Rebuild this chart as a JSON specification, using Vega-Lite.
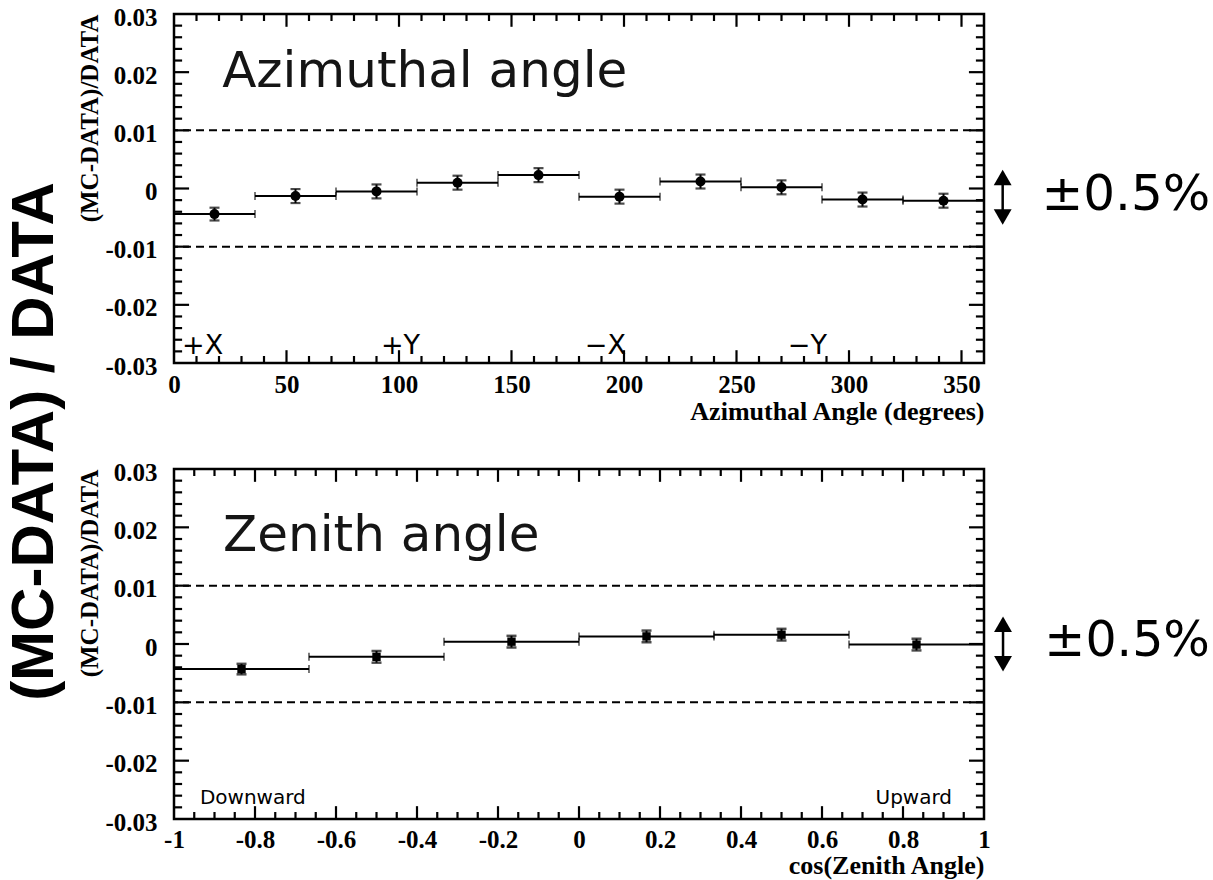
{
  "$schema": "https://vega.github.io/schema/vega-lite/v6.json",
  "background": "white",
  "padding": {"left": 4, "top": 3, "right": 2, "bottom": 2},
  "title": {
    "text": "(MC-DATA) / DATA",
    "orient": "left",
    "anchor": "middle",
    "font": "Liberation Sans",
    "fontSize": 60,
    "fontWeight": "bold",
    "color": "black",
    "offset": 11
  },
  "spacing": 32,
  "datasets": {
    "azimuth": [
      {"phi_lo": 0, "phi_hi": 36, "phi": 18, "ratio": -0.0044, "ratio_lo": -0.0055, "ratio_hi": -0.0033},
      {"phi_lo": 36, "phi_hi": 72, "phi": 54, "ratio": -0.0013, "ratio_lo": -0.0025, "ratio_hi": -0.0001},
      {"phi_lo": 72, "phi_hi": 108, "phi": 90, "ratio": -0.0005, "ratio_lo": -0.0017, "ratio_hi": 0.0007},
      {"phi_lo": 108, "phi_hi": 144, "phi": 126, "ratio": 0.0010, "ratio_lo": -0.0002, "ratio_hi": 0.0022},
      {"phi_lo": 144, "phi_hi": 180, "phi": 162, "ratio": 0.0023, "ratio_lo": 0.0011, "ratio_hi": 0.0035},
      {"phi_lo": 180, "phi_hi": 216, "phi": 198, "ratio": -0.0014, "ratio_lo": -0.0026, "ratio_hi": -0.0002},
      {"phi_lo": 216, "phi_hi": 252, "phi": 234, "ratio": 0.0012, "ratio_lo": 0.0000, "ratio_hi": 0.0024},
      {"phi_lo": 252, "phi_hi": 288, "phi": 270, "ratio": 0.0002, "ratio_lo": -0.0010, "ratio_hi": 0.0014},
      {"phi_lo": 288, "phi_hi": 324, "phi": 306, "ratio": -0.0019, "ratio_lo": -0.0031, "ratio_hi": -0.0007},
      {"phi_lo": 324, "phi_hi": 360, "phi": 342, "ratio": -0.0021, "ratio_lo": -0.0033, "ratio_hi": -0.0009}
    ],
    "zenith": [
      {"c_lo": -1, "c_hi": -0.6667, "c": -0.8333, "ratio": -0.0043, "ratio_lo": -0.0052, "ratio_hi": -0.0034},
      {"c_lo": -0.6667, "c_hi": -0.3333, "c": -0.5, "ratio": -0.0022, "ratio_lo": -0.0032, "ratio_hi": -0.0012},
      {"c_lo": -0.3333, "c_hi": 0, "c": -0.1667, "ratio": 0.0004, "ratio_lo": -0.0006, "ratio_hi": 0.0014},
      {"c_lo": 0, "c_hi": 0.3333, "c": 0.1667, "ratio": 0.0013, "ratio_lo": 0.0003, "ratio_hi": 0.0023},
      {"c_lo": 0.3333, "c_hi": 0.6667, "c": 0.5, "ratio": 0.0016, "ratio_lo": 0.0006, "ratio_hi": 0.0026},
      {"c_lo": 0.6667, "c_hi": 1, "c": 0.8333, "ratio": -0.0001, "ratio_lo": -0.0011, "ratio_hi": 0.0009}
    ],
    "phi_ticks": [
      {"phi": 50, "edge": -0.03, "tip": -0.0278}, {"phi": 50, "edge": 0.03, "tip": 0.0278},
      {"phi": 100, "edge": -0.03, "tip": -0.0278}, {"phi": 100, "edge": 0.03, "tip": 0.0278},
      {"phi": 150, "edge": -0.03, "tip": -0.0278}, {"phi": 150, "edge": 0.03, "tip": 0.0278},
      {"phi": 200, "edge": -0.03, "tip": -0.0278}, {"phi": 200, "edge": 0.03, "tip": 0.0278},
      {"phi": 250, "edge": -0.03, "tip": -0.0278}, {"phi": 250, "edge": 0.03, "tip": 0.0278},
      {"phi": 300, "edge": -0.03, "tip": -0.0278}, {"phi": 300, "edge": 0.03, "tip": 0.0278},
      {"phi": 350, "edge": -0.03, "tip": -0.0278}, {"phi": 350, "edge": 0.03, "tip": 0.0278},
      {"phi": 10, "edge": -0.03, "tip": -0.0288}, {"phi": 10, "edge": 0.03, "tip": 0.0288},
      {"phi": 20, "edge": -0.03, "tip": -0.0288}, {"phi": 20, "edge": 0.03, "tip": 0.0288},
      {"phi": 30, "edge": -0.03, "tip": -0.0288}, {"phi": 30, "edge": 0.03, "tip": 0.0288},
      {"phi": 40, "edge": -0.03, "tip": -0.0288}, {"phi": 40, "edge": 0.03, "tip": 0.0288},
      {"phi": 60, "edge": -0.03, "tip": -0.0288}, {"phi": 60, "edge": 0.03, "tip": 0.0288},
      {"phi": 70, "edge": -0.03, "tip": -0.0288}, {"phi": 70, "edge": 0.03, "tip": 0.0288},
      {"phi": 80, "edge": -0.03, "tip": -0.0288}, {"phi": 80, "edge": 0.03, "tip": 0.0288},
      {"phi": 90, "edge": -0.03, "tip": -0.0288}, {"phi": 90, "edge": 0.03, "tip": 0.0288},
      {"phi": 110, "edge": -0.03, "tip": -0.0288}, {"phi": 110, "edge": 0.03, "tip": 0.0288},
      {"phi": 120, "edge": -0.03, "tip": -0.0288}, {"phi": 120, "edge": 0.03, "tip": 0.0288},
      {"phi": 130, "edge": -0.03, "tip": -0.0288}, {"phi": 130, "edge": 0.03, "tip": 0.0288},
      {"phi": 140, "edge": -0.03, "tip": -0.0288}, {"phi": 140, "edge": 0.03, "tip": 0.0288},
      {"phi": 160, "edge": -0.03, "tip": -0.0288}, {"phi": 160, "edge": 0.03, "tip": 0.0288},
      {"phi": 170, "edge": -0.03, "tip": -0.0288}, {"phi": 170, "edge": 0.03, "tip": 0.0288},
      {"phi": 180, "edge": -0.03, "tip": -0.0288}, {"phi": 180, "edge": 0.03, "tip": 0.0288},
      {"phi": 190, "edge": -0.03, "tip": -0.0288}, {"phi": 190, "edge": 0.03, "tip": 0.0288},
      {"phi": 210, "edge": -0.03, "tip": -0.0288}, {"phi": 210, "edge": 0.03, "tip": 0.0288},
      {"phi": 220, "edge": -0.03, "tip": -0.0288}, {"phi": 220, "edge": 0.03, "tip": 0.0288},
      {"phi": 230, "edge": -0.03, "tip": -0.0288}, {"phi": 230, "edge": 0.03, "tip": 0.0288},
      {"phi": 240, "edge": -0.03, "tip": -0.0288}, {"phi": 240, "edge": 0.03, "tip": 0.0288},
      {"phi": 260, "edge": -0.03, "tip": -0.0288}, {"phi": 260, "edge": 0.03, "tip": 0.0288},
      {"phi": 270, "edge": -0.03, "tip": -0.0288}, {"phi": 270, "edge": 0.03, "tip": 0.0288},
      {"phi": 280, "edge": -0.03, "tip": -0.0288}, {"phi": 280, "edge": 0.03, "tip": 0.0288},
      {"phi": 290, "edge": -0.03, "tip": -0.0288}, {"phi": 290, "edge": 0.03, "tip": 0.0288},
      {"phi": 310, "edge": -0.03, "tip": -0.0288}, {"phi": 310, "edge": 0.03, "tip": 0.0288},
      {"phi": 320, "edge": -0.03, "tip": -0.0288}, {"phi": 320, "edge": 0.03, "tip": 0.0288},
      {"phi": 330, "edge": -0.03, "tip": -0.0288}, {"phi": 330, "edge": 0.03, "tip": 0.0288},
      {"phi": 340, "edge": -0.03, "tip": -0.0288}, {"phi": 340, "edge": 0.03, "tip": 0.0288}
    ],
    "azi_ratio_ticks": [
      {"ratio": -0.02, "edge": 0, "tip": 6.7}, {"ratio": -0.02, "edge": 360, "tip": 353.3},
      {"ratio": -0.01, "edge": 0, "tip": 6.7}, {"ratio": -0.01, "edge": 360, "tip": 353.3},
      {"ratio": 0, "edge": 0, "tip": 6.7}, {"ratio": 0, "edge": 360, "tip": 353.3},
      {"ratio": 0.01, "edge": 0, "tip": 6.7}, {"ratio": 0.01, "edge": 360, "tip": 353.3},
      {"ratio": 0.02, "edge": 0, "tip": 6.7}, {"ratio": 0.02, "edge": 360, "tip": 353.3},
      {"ratio": -0.028, "edge": 0, "tip": 3.6}, {"ratio": -0.028, "edge": 360, "tip": 356.4},
      {"ratio": -0.026, "edge": 0, "tip": 3.6}, {"ratio": -0.026, "edge": 360, "tip": 356.4},
      {"ratio": -0.024, "edge": 0, "tip": 3.6}, {"ratio": -0.024, "edge": 360, "tip": 356.4},
      {"ratio": -0.022, "edge": 0, "tip": 3.6}, {"ratio": -0.022, "edge": 360, "tip": 356.4},
      {"ratio": -0.018, "edge": 0, "tip": 3.6}, {"ratio": -0.018, "edge": 360, "tip": 356.4},
      {"ratio": -0.016, "edge": 0, "tip": 3.6}, {"ratio": -0.016, "edge": 360, "tip": 356.4},
      {"ratio": -0.014, "edge": 0, "tip": 3.6}, {"ratio": -0.014, "edge": 360, "tip": 356.4},
      {"ratio": -0.012, "edge": 0, "tip": 3.6}, {"ratio": -0.012, "edge": 360, "tip": 356.4},
      {"ratio": -0.008, "edge": 0, "tip": 3.6}, {"ratio": -0.008, "edge": 360, "tip": 356.4},
      {"ratio": -0.006, "edge": 0, "tip": 3.6}, {"ratio": -0.006, "edge": 360, "tip": 356.4},
      {"ratio": -0.004, "edge": 0, "tip": 3.6}, {"ratio": -0.004, "edge": 360, "tip": 356.4},
      {"ratio": -0.002, "edge": 0, "tip": 3.6}, {"ratio": -0.002, "edge": 360, "tip": 356.4},
      {"ratio": 0.002, "edge": 0, "tip": 3.6}, {"ratio": 0.002, "edge": 360, "tip": 356.4},
      {"ratio": 0.004, "edge": 0, "tip": 3.6}, {"ratio": 0.004, "edge": 360, "tip": 356.4},
      {"ratio": 0.006, "edge": 0, "tip": 3.6}, {"ratio": 0.006, "edge": 360, "tip": 356.4},
      {"ratio": 0.008, "edge": 0, "tip": 3.6}, {"ratio": 0.008, "edge": 360, "tip": 356.4},
      {"ratio": 0.012, "edge": 0, "tip": 3.6}, {"ratio": 0.012, "edge": 360, "tip": 356.4},
      {"ratio": 0.014, "edge": 0, "tip": 3.6}, {"ratio": 0.014, "edge": 360, "tip": 356.4},
      {"ratio": 0.016, "edge": 0, "tip": 3.6}, {"ratio": 0.016, "edge": 360, "tip": 356.4},
      {"ratio": 0.018, "edge": 0, "tip": 3.6}, {"ratio": 0.018, "edge": 360, "tip": 356.4},
      {"ratio": 0.022, "edge": 0, "tip": 3.6}, {"ratio": 0.022, "edge": 360, "tip": 356.4},
      {"ratio": 0.024, "edge": 0, "tip": 3.6}, {"ratio": 0.024, "edge": 360, "tip": 356.4},
      {"ratio": 0.026, "edge": 0, "tip": 3.6}, {"ratio": 0.026, "edge": 360, "tip": 356.4},
      {"ratio": 0.028, "edge": 0, "tip": 3.6}, {"ratio": 0.028, "edge": 360, "tip": 356.4}
    ],
    "cos_ticks": [
      {"cos": -0.8, "edge": -0.03, "tip": -0.0278}, {"cos": -0.8, "edge": 0.03, "tip": 0.0278},
      {"cos": -0.6, "edge": -0.03, "tip": -0.0278}, {"cos": -0.6, "edge": 0.03, "tip": 0.0278},
      {"cos": -0.4, "edge": -0.03, "tip": -0.0278}, {"cos": -0.4, "edge": 0.03, "tip": 0.0278},
      {"cos": -0.2, "edge": -0.03, "tip": -0.0278}, {"cos": -0.2, "edge": 0.03, "tip": 0.0278},
      {"cos": 0, "edge": -0.03, "tip": -0.0278}, {"cos": 0, "edge": 0.03, "tip": 0.0278},
      {"cos": 0.2, "edge": -0.03, "tip": -0.0278}, {"cos": 0.2, "edge": 0.03, "tip": 0.0278},
      {"cos": 0.4, "edge": -0.03, "tip": -0.0278}, {"cos": 0.4, "edge": 0.03, "tip": 0.0278},
      {"cos": 0.6, "edge": -0.03, "tip": -0.0278}, {"cos": 0.6, "edge": 0.03, "tip": 0.0278},
      {"cos": 0.8, "edge": -0.03, "tip": -0.0278}, {"cos": 0.8, "edge": 0.03, "tip": 0.0278},
      {"cos": -0.95, "edge": -0.03, "tip": -0.0288}, {"cos": -0.95, "edge": 0.03, "tip": 0.0288},
      {"cos": -0.9, "edge": -0.03, "tip": -0.0288}, {"cos": -0.9, "edge": 0.03, "tip": 0.0288},
      {"cos": -0.85, "edge": -0.03, "tip": -0.0288}, {"cos": -0.85, "edge": 0.03, "tip": 0.0288},
      {"cos": -0.75, "edge": -0.03, "tip": -0.0288}, {"cos": -0.75, "edge": 0.03, "tip": 0.0288},
      {"cos": -0.7, "edge": -0.03, "tip": -0.0288}, {"cos": -0.7, "edge": 0.03, "tip": 0.0288},
      {"cos": -0.65, "edge": -0.03, "tip": -0.0288}, {"cos": -0.65, "edge": 0.03, "tip": 0.0288},
      {"cos": -0.55, "edge": -0.03, "tip": -0.0288}, {"cos": -0.55, "edge": 0.03, "tip": 0.0288},
      {"cos": -0.5, "edge": -0.03, "tip": -0.0288}, {"cos": -0.5, "edge": 0.03, "tip": 0.0288},
      {"cos": -0.45, "edge": -0.03, "tip": -0.0288}, {"cos": -0.45, "edge": 0.03, "tip": 0.0288},
      {"cos": -0.35, "edge": -0.03, "tip": -0.0288}, {"cos": -0.35, "edge": 0.03, "tip": 0.0288},
      {"cos": -0.3, "edge": -0.03, "tip": -0.0288}, {"cos": -0.3, "edge": 0.03, "tip": 0.0288},
      {"cos": -0.25, "edge": -0.03, "tip": -0.0288}, {"cos": -0.25, "edge": 0.03, "tip": 0.0288},
      {"cos": -0.15, "edge": -0.03, "tip": -0.0288}, {"cos": -0.15, "edge": 0.03, "tip": 0.0288},
      {"cos": -0.1, "edge": -0.03, "tip": -0.0288}, {"cos": -0.1, "edge": 0.03, "tip": 0.0288},
      {"cos": -0.05, "edge": -0.03, "tip": -0.0288}, {"cos": -0.05, "edge": 0.03, "tip": 0.0288},
      {"cos": 0.05, "edge": -0.03, "tip": -0.0288}, {"cos": 0.05, "edge": 0.03, "tip": 0.0288},
      {"cos": 0.1, "edge": -0.03, "tip": -0.0288}, {"cos": 0.1, "edge": 0.03, "tip": 0.0288},
      {"cos": 0.15, "edge": -0.03, "tip": -0.0288}, {"cos": 0.15, "edge": 0.03, "tip": 0.0288},
      {"cos": 0.25, "edge": -0.03, "tip": -0.0288}, {"cos": 0.25, "edge": 0.03, "tip": 0.0288},
      {"cos": 0.3, "edge": -0.03, "tip": -0.0288}, {"cos": 0.3, "edge": 0.03, "tip": 0.0288},
      {"cos": 0.35, "edge": -0.03, "tip": -0.0288}, {"cos": 0.35, "edge": 0.03, "tip": 0.0288},
      {"cos": 0.45, "edge": -0.03, "tip": -0.0288}, {"cos": 0.45, "edge": 0.03, "tip": 0.0288},
      {"cos": 0.5, "edge": -0.03, "tip": -0.0288}, {"cos": 0.5, "edge": 0.03, "tip": 0.0288},
      {"cos": 0.55, "edge": -0.03, "tip": -0.0288}, {"cos": 0.55, "edge": 0.03, "tip": 0.0288},
      {"cos": 0.65, "edge": -0.03, "tip": -0.0288}, {"cos": 0.65, "edge": 0.03, "tip": 0.0288},
      {"cos": 0.7, "edge": -0.03, "tip": -0.0288}, {"cos": 0.7, "edge": 0.03, "tip": 0.0288},
      {"cos": 0.75, "edge": -0.03, "tip": -0.0288}, {"cos": 0.75, "edge": 0.03, "tip": 0.0288},
      {"cos": 0.85, "edge": -0.03, "tip": -0.0288}, {"cos": 0.85, "edge": 0.03, "tip": 0.0288},
      {"cos": 0.9, "edge": -0.03, "tip": -0.0288}, {"cos": 0.9, "edge": 0.03, "tip": 0.0288},
      {"cos": 0.95, "edge": -0.03, "tip": -0.0288}, {"cos": 0.95, "edge": 0.03, "tip": 0.0288}
    ],
    "zen_ratio_ticks": [
      {"ratio": -0.02, "edge": -1, "tip": -0.963}, {"ratio": -0.02, "edge": 1, "tip": 0.963},
      {"ratio": -0.01, "edge": -1, "tip": -0.963}, {"ratio": -0.01, "edge": 1, "tip": 0.963},
      {"ratio": 0, "edge": -1, "tip": -0.963}, {"ratio": 0, "edge": 1, "tip": 0.963},
      {"ratio": 0.01, "edge": -1, "tip": -0.963}, {"ratio": 0.01, "edge": 1, "tip": 0.963},
      {"ratio": 0.02, "edge": -1, "tip": -0.963}, {"ratio": 0.02, "edge": 1, "tip": 0.963},
      {"ratio": -0.028, "edge": -1, "tip": -0.98}, {"ratio": -0.028, "edge": 1, "tip": 0.98},
      {"ratio": -0.026, "edge": -1, "tip": -0.98}, {"ratio": -0.026, "edge": 1, "tip": 0.98},
      {"ratio": -0.024, "edge": -1, "tip": -0.98}, {"ratio": -0.024, "edge": 1, "tip": 0.98},
      {"ratio": -0.022, "edge": -1, "tip": -0.98}, {"ratio": -0.022, "edge": 1, "tip": 0.98},
      {"ratio": -0.018, "edge": -1, "tip": -0.98}, {"ratio": -0.018, "edge": 1, "tip": 0.98},
      {"ratio": -0.016, "edge": -1, "tip": -0.98}, {"ratio": -0.016, "edge": 1, "tip": 0.98},
      {"ratio": -0.014, "edge": -1, "tip": -0.98}, {"ratio": -0.014, "edge": 1, "tip": 0.98},
      {"ratio": -0.012, "edge": -1, "tip": -0.98}, {"ratio": -0.012, "edge": 1, "tip": 0.98},
      {"ratio": -0.008, "edge": -1, "tip": -0.98}, {"ratio": -0.008, "edge": 1, "tip": 0.98},
      {"ratio": -0.006, "edge": -1, "tip": -0.98}, {"ratio": -0.006, "edge": 1, "tip": 0.98},
      {"ratio": -0.004, "edge": -1, "tip": -0.98}, {"ratio": -0.004, "edge": 1, "tip": 0.98},
      {"ratio": -0.002, "edge": -1, "tip": -0.98}, {"ratio": -0.002, "edge": 1, "tip": 0.98},
      {"ratio": 0.002, "edge": -1, "tip": -0.98}, {"ratio": 0.002, "edge": 1, "tip": 0.98},
      {"ratio": 0.004, "edge": -1, "tip": -0.98}, {"ratio": 0.004, "edge": 1, "tip": 0.98},
      {"ratio": 0.006, "edge": -1, "tip": -0.98}, {"ratio": 0.006, "edge": 1, "tip": 0.98},
      {"ratio": 0.008, "edge": -1, "tip": -0.98}, {"ratio": 0.008, "edge": 1, "tip": 0.98},
      {"ratio": 0.012, "edge": -1, "tip": -0.98}, {"ratio": 0.012, "edge": 1, "tip": 0.98},
      {"ratio": 0.014, "edge": -1, "tip": -0.98}, {"ratio": 0.014, "edge": 1, "tip": 0.98},
      {"ratio": 0.016, "edge": -1, "tip": -0.98}, {"ratio": 0.016, "edge": 1, "tip": 0.98},
      {"ratio": 0.018, "edge": -1, "tip": -0.98}, {"ratio": 0.018, "edge": 1, "tip": 0.98},
      {"ratio": 0.022, "edge": -1, "tip": -0.98}, {"ratio": 0.022, "edge": 1, "tip": 0.98},
      {"ratio": 0.024, "edge": -1, "tip": -0.98}, {"ratio": 0.024, "edge": 1, "tip": 0.98},
      {"ratio": 0.026, "edge": -1, "tip": -0.98}, {"ratio": 0.026, "edge": 1, "tip": 0.98},
      {"ratio": 0.028, "edge": -1, "tip": -0.98}, {"ratio": 0.028, "edge": 1, "tip": 0.98}
    ],
    "limits": [{"band": 0.01}, {"band": -0.01}],
    "azi_heading": [{"x": 21.4, "y": 0.0174, "text": "Azimuthal angle"}],
    "azi_dirs": [
      {"x": 3.6, "y": -0.0284, "text": "+X"},
      {"x": 92, "y": -0.0284, "text": "+Y"},
      {"x": 182.6, "y": -0.0284, "text": "−X"},
      {"x": 272.8, "y": -0.0284, "text": "−Y"}
    ],
    "azi_arrow": [{"x": 368.3, "top": 0.0019, "bottom": -0.0049}],
    "azi_range": [{"x": 385.5, "y": -0.0012, "text": "±0.5%"}],
    "zen_heading": [{"x": -0.879, "y": 0.016, "text": "Zenith angle"}],
    "zen_down": [{"x": -0.936, "y": -0.0274, "text": "Downward"}],
    "zen_up": [{"x": 0.921, "y": -0.0274, "text": "Upward"}],
    "zen_arrow": [{"x": 1.047, "top": 0.0034, "bottom": -0.0034}],
    "zen_range": [{"x": 1.149, "y": 0.0006, "text": "±0.5%"}]
  },
  "vconcat": [
    {
      "width": 810,
      "height": 349,
      "layer": [
        {
          "data": {"name": "azimuth"},
          "mark": {"type": "rule", "color": "black", "strokeWidth": 2},
          "encoding": {
            "x": {
              "field": "phi_lo", "type": "quantitative",
              "scale": {"domain": [0, 360], "nice": false, "zero": false},
              "axis": {
                "orient": "bottom",
                "values": [0, 50, 100, 150, 200, 250, 300, 350],
                "labelExpr": "'' + datum.value",
                "labelPadding": 9,
                "title": "Azimuthal Angle (degrees)",
                "titleAnchor": "end",
                "titleFontSize": 26,
                "titlePadding": 1
              }
            },
            "x2": {"field": "phi_hi"},
            "y": {
              "field": "ratio", "type": "quantitative",
              "scale": {"domain": [-0.03, 0.03], "nice": false, "zero": false},
              "axis": {
                "orient": "left",
                "values": [-0.03, -0.02, -0.01, 0, 0.01, 0.02, 0.03],
                "labelExpr": "'' + datum.value",
                "labelPadding": 17,
                "labelOffset": 3,
                "title": "(MC-DATA)/DATA",
                "titleAnchor": "end",
                "titleFontSize": 25,
                "titlePadding": 2
              }
            }
          }
        },
        {
          "data": {"name": "azimuth"},
          "mark": {"type": "rule", "color": "black", "strokeWidth": 2},
          "encoding": {
            "x": {"field": "phi", "type": "quantitative"},
            "y": {"field": "ratio_lo", "type": "quantitative"},
            "y2": {"field": "ratio_hi"}
          }
        },
        {
          "data": {"name": "azimuth"},
          "mark": {"type": "tick", "orient": "vertical", "color": "black", "size": 8, "thickness": 1.5},
          "encoding": {
            "x": {"field": "phi_lo", "type": "quantitative"},
            "y": {"field": "ratio", "type": "quantitative"}
          }
        },
        {
          "data": {"name": "azimuth"},
          "mark": {"type": "tick", "orient": "vertical", "color": "black", "size": 8, "thickness": 1.5},
          "encoding": {
            "x": {"field": "phi_hi", "type": "quantitative"},
            "y": {"field": "ratio", "type": "quantitative"}
          }
        },
        {
          "data": {"name": "limits"},
          "mark": {"type": "rule", "color": "black", "strokeWidth": 2, "strokeDash": [8, 5]},
          "encoding": {
            "y": {"field": "band", "type": "quantitative"}
          }
        },
        {
          "data": {"name": "azimuth"},
          "mark": {"type": "tick", "orient": "horizontal", "color": "black", "size": 10, "thickness": 2.2},
          "encoding": {
            "x": {"field": "phi", "type": "quantitative"},
            "y": {"field": "ratio_lo", "type": "quantitative"}
          }
        },
        {
          "data": {"name": "azimuth"},
          "mark": {"type": "tick", "orient": "horizontal", "color": "black", "size": 10, "thickness": 2.2},
          "encoding": {
            "x": {"field": "phi", "type": "quantitative"},
            "y": {"field": "ratio_hi", "type": "quantitative"}
          }
        },
        {
          "data": {"name": "azimuth"},
          "mark": {"type": "point", "shape": "circle", "filled": true, "color": "black", "size": 100, "opacity": 1},
          "encoding": {
            "x": {"field": "phi", "type": "quantitative"},
            "y": {"field": "ratio", "type": "quantitative"}
          }
        },
        {
          "data": {"name": "azi_heading"},
          "mark": {"type": "text", "font": "DejaVu Sans", "fontSize": 50, "align": "left", "baseline": "alphabetic", "color": "#151515"},
          "encoding": {
            "x": {"field": "x", "type": "quantitative"},
            "y": {"field": "y", "type": "quantitative"},
            "text": {"field": "text"}
          }
        },
        {
          "data": {"name": "azi_dirs"},
          "mark": {"type": "text", "font": "DejaVu Sans", "fontSize": 27, "align": "left", "baseline": "alphabetic", "color": "black"},
          "encoding": {
            "x": {"field": "x", "type": "quantitative"},
            "y": {"field": "y", "type": "quantitative"},
            "text": {"field": "text"}
          }
        },
        {
          "data": {"name": "azi_arrow"},
          "mark": {"type": "rule", "color": "black", "strokeWidth": 2.5},
          "encoding": {
            "x": {"field": "x", "type": "quantitative"},
            "y": {"field": "top", "type": "quantitative"},
            "y2": {"field": "bottom"}
          }
        },
        {
          "data": {"name": "azi_arrow"},
          "mark": {"type": "point", "shape": "triangle-up", "filled": true, "color": "black", "size": 320, "opacity": 1},
          "encoding": {
            "x": {"field": "x", "type": "quantitative"},
            "y": {"field": "top", "type": "quantitative"}
          }
        },
        {
          "data": {"name": "azi_arrow"},
          "mark": {"type": "point", "shape": "triangle-down", "filled": true, "color": "black", "size": 320, "opacity": 1},
          "encoding": {
            "x": {"field": "x", "type": "quantitative"},
            "y": {"field": "bottom", "type": "quantitative"}
          }
        },
        {
          "data": {"name": "azi_range"},
          "mark": {"type": "text", "font": "DejaVu Sans", "fontSize": 50, "align": "left", "baseline": "middle", "color": "black"},
          "encoding": {
            "x": {"field": "x", "type": "quantitative"},
            "y": {"field": "y", "type": "quantitative"},
            "text": {"field": "text"}
          }
        },
        {
          "data": {"name": "phi_ticks"},
          "mark": {"type": "rule", "color": "black", "strokeWidth": 2.2},
          "encoding": {
            "x": {"field": "phi", "type": "quantitative"},
            "y": {"field": "edge", "type": "quantitative"},
            "y2": {"field": "tip"}
          }
        },
        {
          "data": {"name": "azi_ratio_ticks"},
          "mark": {"type": "rule", "color": "black", "strokeWidth": 2.2},
          "encoding": {
            "x": {"field": "edge", "type": "quantitative"},
            "x2": {"field": "tip"},
            "y": {"field": "ratio", "type": "quantitative"}
          }
        }
      ]
    },
    {
      "width": 810,
      "height": 350,
      "layer": [
        {
          "data": {"name": "zenith"},
          "mark": {"type": "rule", "color": "black", "strokeWidth": 2},
          "encoding": {
            "x": {
              "field": "c_lo", "type": "quantitative",
              "scale": {"domain": [-1, 1], "nice": false, "zero": false},
              "axis": {
                "orient": "bottom",
                "values": [-1, -0.8, -0.6, -0.4, -0.2, 0, 0.2, 0.4, 0.6, 0.8, 1],
                "labelExpr": "'' + datum.value",
                "labelPadding": 8,
                "title": "cos(Zenith Angle)",
                "titleAnchor": "end",
                "titleFontSize": 26,
                "titlePadding": 0
              }
            },
            "x2": {"field": "c_hi"},
            "y": {
              "field": "ratio", "type": "quantitative",
              "scale": {"domain": [-0.03, 0.03], "nice": false, "zero": false},
              "axis": {
                "orient": "left",
                "values": [-0.03, -0.02, -0.01, 0, 0.01, 0.02, 0.03],
                "labelExpr": "'' + datum.value",
                "labelPadding": 17,
                "labelOffset": 3,
                "title": "(MC-DATA)/DATA",
                "titleAnchor": "end",
                "titleFontSize": 25,
                "titlePadding": 2
              }
            }
          }
        },
        {
          "data": {"name": "zenith"},
          "mark": {"type": "rule", "color": "black", "strokeWidth": 2},
          "encoding": {
            "x": {"field": "c", "type": "quantitative"},
            "y": {"field": "ratio_lo", "type": "quantitative"},
            "y2": {"field": "ratio_hi"}
          }
        },
        {
          "data": {"name": "zenith"},
          "mark": {"type": "tick", "orient": "vertical", "color": "black", "size": 8, "thickness": 1.5},
          "encoding": {
            "x": {"field": "c_lo", "type": "quantitative"},
            "y": {"field": "ratio", "type": "quantitative"}
          }
        },
        {
          "data": {"name": "zenith"},
          "mark": {"type": "tick", "orient": "vertical", "color": "black", "size": 8, "thickness": 1.5},
          "encoding": {
            "x": {"field": "c_hi", "type": "quantitative"},
            "y": {"field": "ratio", "type": "quantitative"}
          }
        },
        {
          "data": {"name": "limits"},
          "mark": {"type": "rule", "color": "black", "strokeWidth": 2, "strokeDash": [8, 5]},
          "encoding": {
            "y": {"field": "band", "type": "quantitative"}
          }
        },
        {
          "data": {"name": "zenith"},
          "mark": {"type": "tick", "orient": "horizontal", "color": "black", "size": 10, "thickness": 2.5},
          "encoding": {
            "x": {"field": "c", "type": "quantitative"},
            "y": {"field": "ratio_lo", "type": "quantitative"}
          }
        },
        {
          "data": {"name": "zenith"},
          "mark": {"type": "tick", "orient": "horizontal", "color": "black", "size": 10, "thickness": 2.5},
          "encoding": {
            "x": {"field": "c", "type": "quantitative"},
            "y": {"field": "ratio_hi", "type": "quantitative"}
          }
        },
        {
          "data": {"name": "zenith"},
          "mark": {"type": "point", "shape": "square", "filled": true, "color": "black", "size": 70, "opacity": 1},
          "encoding": {
            "x": {"field": "c", "type": "quantitative"},
            "y": {"field": "ratio", "type": "quantitative"}
          }
        },
        {
          "data": {"name": "zen_heading"},
          "mark": {"type": "text", "font": "DejaVu Sans", "fontSize": 50, "align": "left", "baseline": "alphabetic", "color": "#151515"},
          "encoding": {
            "x": {"field": "x", "type": "quantitative"},
            "y": {"field": "y", "type": "quantitative"},
            "text": {"field": "text"}
          }
        },
        {
          "data": {"name": "zen_down"},
          "mark": {"type": "text", "font": "DejaVu Sans", "fontSize": 20, "align": "left", "baseline": "alphabetic", "color": "black"},
          "encoding": {
            "x": {"field": "x", "type": "quantitative"},
            "y": {"field": "y", "type": "quantitative"},
            "text": {"field": "text"}
          }
        },
        {
          "data": {"name": "zen_up"},
          "mark": {"type": "text", "font": "DejaVu Sans", "fontSize": 20, "align": "right", "baseline": "alphabetic", "color": "black"},
          "encoding": {
            "x": {"field": "x", "type": "quantitative"},
            "y": {"field": "y", "type": "quantitative"},
            "text": {"field": "text"}
          }
        },
        {
          "data": {"name": "zen_arrow"},
          "mark": {"type": "rule", "color": "black", "strokeWidth": 2.5},
          "encoding": {
            "x": {"field": "x", "type": "quantitative"},
            "y": {"field": "top", "type": "quantitative"},
            "y2": {"field": "bottom"}
          }
        },
        {
          "data": {"name": "zen_arrow"},
          "mark": {"type": "point", "shape": "triangle-up", "filled": true, "color": "black", "size": 320, "opacity": 1},
          "encoding": {
            "x": {"field": "x", "type": "quantitative"},
            "y": {"field": "top", "type": "quantitative"}
          }
        },
        {
          "data": {"name": "zen_arrow"},
          "mark": {"type": "point", "shape": "triangle-down", "filled": true, "color": "black", "size": 320, "opacity": 1},
          "encoding": {
            "x": {"field": "x", "type": "quantitative"},
            "y": {"field": "bottom", "type": "quantitative"}
          }
        },
        {
          "data": {"name": "zen_range"},
          "mark": {"type": "text", "font": "DejaVu Sans", "fontSize": 49, "align": "left", "baseline": "middle", "color": "black"},
          "encoding": {
            "x": {"field": "x", "type": "quantitative"},
            "y": {"field": "y", "type": "quantitative"},
            "text": {"field": "text"}
          }
        },
        {
          "data": {"name": "cos_ticks"},
          "mark": {"type": "rule", "color": "black", "strokeWidth": 2.2},
          "encoding": {
            "x": {"field": "cos", "type": "quantitative"},
            "y": {"field": "edge", "type": "quantitative"},
            "y2": {"field": "tip"}
          }
        },
        {
          "data": {"name": "zen_ratio_ticks"},
          "mark": {"type": "rule", "color": "black", "strokeWidth": 2.2},
          "encoding": {
            "x": {"field": "edge", "type": "quantitative"},
            "x2": {"field": "tip"},
            "y": {"field": "ratio", "type": "quantitative"}
          }
        }
      ]
    }
  ],
  "config": {
    "view": {"stroke": "black", "strokeWidth": 2.5},
    "axis": {
      "grid": false,
      "ticks": false,
      "tickSize": 0,
      "domain": false,
      "labelColor": "black",
      "labelFont": "Liberation Serif",
      "labelFontWeight": "bold",
      "labelFontSize": 25,
      "labelFlush": false,
      "labelOverlap": false,
      "labelBound": false,
      "titleColor": "black",
      "titleFont": "Liberation Serif",
      "titleFontWeight": "bold"
    }
  }
}
